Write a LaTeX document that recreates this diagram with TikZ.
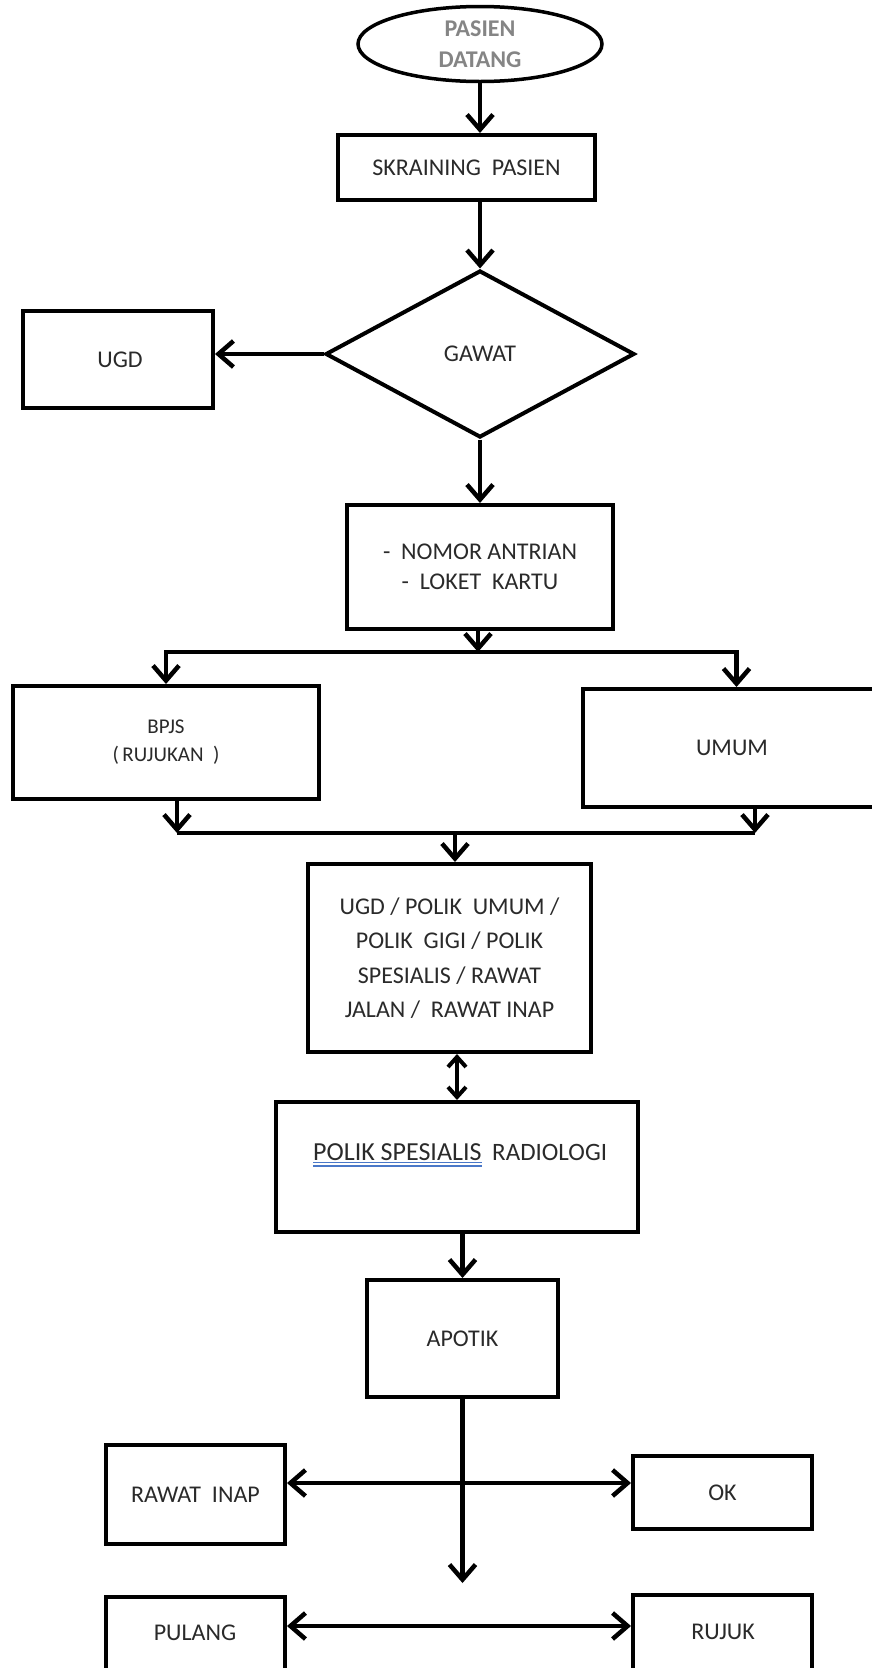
\documentclass[tikz,border=0pt]{standalone}
\usepackage{fontspec}
\setmainfont{Carlito}
\usetikzlibrary{arrows.meta,shapes.geometric}
\definecolor{txt}{HTML}{2A2A2A}
\definecolor{gtxt}{HTML}{858585}
\definecolor{ublue}{HTML}{4A78C8}
\begin{document}
\begin{tikzpicture}[x=1pt,y=-1pt,
  box/.style={draw=black, line width=4pt, rectangle, inner sep=0pt, text=txt,
    font={\fontsize{24}{34.5}\selectfont}, align=center},
  ell/.style={draw=black, line width=3.5pt, ellipse, inner sep=0pt, text=gtxt,
    font={\fontsize{24}{31}\selectfont\bfseries}, align=center,
    minimum width=244pt, minimum height=75pt},
  dia/.style={draw=black, line width=4pt, diamond, inner sep=0pt, text=txt,
    font={\fontsize{24}{30}\selectfont}, minimum width=309pt, minimum height=167pt},
  lbl/.style={inner sep=0pt, text=txt, font={\fontsize{24}{30}\selectfont}, align=center},
  conn/.style={line width=4.5pt, line join=miter, -{Straight Barb[length=15pt,width=26pt]}},
  dconn/.style={line width=4.5pt, {Straight Barb[length=15pt,width=26pt]}-{Straight Barb[length=15pt,width=26pt]}},
  sconn/.style={line width=4pt, {Straight Barb[length=10pt,width=18pt]}-{Straight Barb[length=10pt,width=18pt]}},
  bus/.style={line width=4.5pt}
]
\useasboundingbox (0,0) rectangle (872,1668);
\clip (0,0) rectangle (872,1668);
\fill[white] (0,0) rectangle (872,1668);

% nodes
\node[ell] (start) at (480,44) {PASIEN\\DATANG};
\node[box, minimum width=257pt, minimum height=65pt] (skr) at (466.5,167.5) {SKRAINING\ \ PASIEN};
\node[dia] (gawat) at (480,354) {GAWAT};
\node[box, minimum width=190pt, minimum height=97pt] (ugd) at (118,359.5) {\hspace*{4pt}UGD};
\node[box, font={\fontsize{24}{30}\selectfont}, minimum width=266pt, minimum height=124pt] (antri) at (480,567) {-\ \ NOMOR ANTRIAN\\-\ \ LOKET\ \ KARTU};
\node[box, font={\fontsize{21}{28}\selectfont}, minimum width=306pt, minimum height=113pt] (bpjs) at (166,742.5) {BPJS\\(\,RUJUKAN\ \ )};
\node[box, minimum width=307pt, minimum height=118pt] (umum) at (736.5,748) {\hspace*{-9pt}UMUM};
\node[box, minimum width=283pt, minimum height=188pt] (poli) at (449.5,958) {UGD / POLIK\ \ UMUM /\\POLIK\ \ GIGI / POLIK\\SPESIALIS / RAWAT\\JALAN /\ \ RAWAT INAP};
\node[box, minimum width=362pt, minimum height=130pt] (radio) at (457,1167) {};
\node[lbl, font={\fontsize{26}{30}\selectfont}, anchor=base west] (radp) at (313,1160) {POLIK SPESIALIS};
\node[lbl, font={\fontsize{25}{30}\selectfont}, anchor=base west] (radr) at (492,1160) {RADIOLOGI};
\node[box, minimum width=191pt, minimum height=117pt] (apotik) at (462.5,1338.5) {APOTIK};
\node[box, minimum width=179pt, minimum height=99pt] (rinap) at (195.5,1494.5) {RAWAT\ \ INAP};
\node[box, minimum width=179pt, minimum height=73pt] (ok) at (722.5,1492.5) {OK};
\node[box, minimum width=179pt, minimum height=190pt, anchor=north] (pulang) at (195.5,1595) {};
\node[lbl] (pulangt) at (195,1633) {PULANG};
\node[box, minimum width=179pt, minimum height=190pt, anchor=north] (rujuk) at (722.5,1593) {};
\node[lbl] (rujukt) at (723,1632) {RUJUK};

% blue double underline
\draw[ublue, line width=1.3pt] ([yshift=-2.5pt]radp.base west) -- ([yshift=-2.5pt]radp.base east);
\draw[ublue, line width=1.3pt] ([yshift=-6pt]radp.base west) -- ([yshift=-6pt]radp.base east);

% coordinates
\coordinate (b1) at (478,652);
\coordinate (b2) at (455,833);
\coordinate (fin) at (462.5,1583);

% connectors
\draw[conn] (start.south) -- (start.south |- skr.north);
\draw[conn] (skr.south -| start) -- (gawat.north);
\draw[conn] (gawat.west) -- (gawat.west -| ugd.east);
\draw[conn] (gawat.south) -- (antri.north);
\draw[conn] (antri.south -| b1) -- (b1);
\draw[conn] (b1) -| (bpjs.north);
\draw[conn] (b1) -| (umum.north);
\draw[bus] ([xshift=11pt]bpjs.south |- b2) -- ([xshift=18.5pt]umum.south |- b2);
\draw[conn] ([xshift=11pt]bpjs.south) -- ([xshift=11pt]bpjs.south |- b2);
\draw[conn] ([xshift=18.5pt]umum.south) -- ([xshift=18.5pt]umum.south |- b2);
\draw[conn] (b2) -- (b2 |- poli.north);
\draw[sconn] (radio.north |- poli.south) -- (radio.north);
\draw[conn] (apotik.north |- radio.south) -- (apotik.north);
\draw[conn] (apotik.south) -- (fin);
\draw[dconn] ([yshift=11.5pt]rinap.east) -- ([yshift=11.5pt]rinap.east -| ok.west);
\draw[dconn] ([yshift=-31pt]pulang.north east) -- ([yshift=-31pt]pulang.north east -| rujuk.west);
\end{tikzpicture}
\end{document}
